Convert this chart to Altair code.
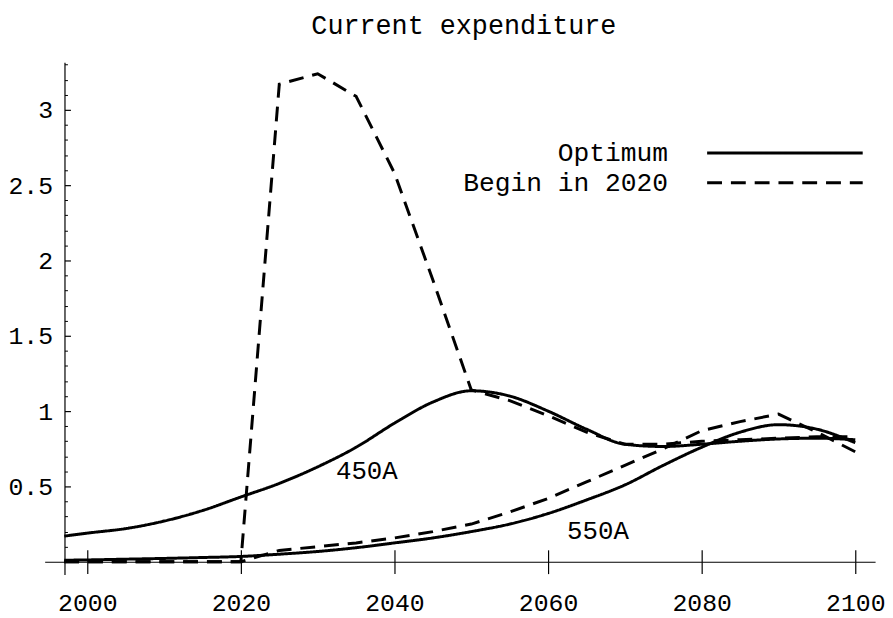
import altair as alt
import pandas as pd

# ---------------- data ----------------
years = [1997, 2000, 2005, 2010, 2015, 2020, 2025, 2030, 2035, 2040, 2045,
         2050, 2055, 2060, 2065, 2070, 2075, 2080, 2085, 2090, 2095, 2100]

optimum_450 = [0.17, 0.19, 0.22, 0.27, 0.34, 0.43, 0.52, 0.63, 0.76, 0.92, 1.06,
               1.135, 1.10, 1.00, 0.88, 0.78, 0.765, 0.78, 0.80, 0.815, 0.82, 0.81]
begin_450 = [0.0, 0.0, 0.0, 0.0, 0.0, 0.0, 3.17, 3.24, 3.09, 2.58, 1.87,
             1.14, 1.07, 0.97, 0.86, 0.78, 0.78, 0.80, 0.81, 0.82, 0.83, 0.83]
optimum_550 = [0.01, 0.012, 0.017, 0.022, 0.028, 0.035, 0.05, 0.068, 0.093, 0.125, 0.158,
               0.20, 0.25, 0.32, 0.41, 0.51, 0.64, 0.76, 0.86, 0.91, 0.88, 0.79]
begin_550 = [0.0, 0.0, 0.0, 0.0, 0.0, 0.0, 0.075, 0.10, 0.125, 0.158, 0.20,
             0.25, 0.33, 0.42, 0.53, 0.64, 0.75, 0.87, 0.93, 0.98, 0.86, 0.73]

scenarios = ["Optimum", "Begin in 2020"]
cases = ["450A", "550A"]

label_text = ["450A", "550A"]
label_year = [2036.4, 2066.5]
label_value = [0.605, 0.204]

x_major = [2000, 2020, 2040, 2060, 2080, 2100]
y_major = [0.5, 1.0, 1.5, 2.0, 2.5, 3.0]
y_minor = [round(v / 10, 1) for v in range(1, 34) if v % 5 != 0]

# ---------------- tables ----------------
rows = []
for scen, case, vals in [("Optimum", "450A", optimum_450), ("Begin in 2020", "450A", begin_450),
                         ("Optimum", "550A", optimum_550), ("Begin in 2020", "550A", begin_550)]:
    for yr, v in zip(years, vals):
        rows.append({"year": yr, "value": v, "scenario": scen, "case": case})
df = pd.DataFrame(rows)
labels_df = pd.DataFrame({"text": label_text, "year": label_year, "value": label_value})

FONT = "Liberation Mono"
xscale = alt.Scale(domain=[1994.45, 2102.58], nice=False, zero=False)
yscale = alt.Scale(domain=[-0.0855, 3.316], nice=False, zero=False)


def make_legend(y):
    return alt.Legend(
        title=None, orient="none", legendX=667, legendY=y, padding=0,
        symbolType="stroke", symbolSize=24649, symbolStrokeWidth=3,
        symbolStrokeColor="black",
        labelFont=FONT, labelFontSize=26.5, labelColor="black", labelAlign="right",
        labelBaseline="middle", labelOffset={"expr": "-198"}, labelLimit=400,
    )


x_main = alt.Axis(orient="bottom", offset={"expr": "-13"}, values=x_major, format="d", tickSize=12,
                  labelPadding=17, grid=False, title=None, labelFont=FONT, labelFontSize=25,
                  labelColor="black", domainColor="black", tickColor="black",
                  domainWidth=1.2, tickWidth=1.2, labelFlush=False)
y_main = alt.Axis(orient="left", offset={"expr": "-20"}, values=y_major, format="~g", ticks=False,
                  tickSize=0, labelPadding=12, grid=False, title=None, labelFont=FONT,
                  labelFontSize=25, labelColor="black", domainColor="black",
                  domainWidth=1.2, labelFlush=False)

opt_lines = alt.Chart(df).transform_filter(alt.datum.scenario == "Optimum").mark_line(
    interpolate="monotone", strokeWidth=3, color="black"
).encode(
    x=alt.X("year:Q", scale=xscale, axis=x_main),
    y=alt.Y("value:Q", scale=yscale, axis=y_main),
    strokeDash=alt.StrokeDash("scenario:N",
                              scale=alt.Scale(domain=[scenarios[0]], range=[[1, 0]]),
                              legend=make_legend(11.5)),
    detail="case:N",
)

begin_lines = alt.Chart(df).transform_filter(alt.datum.scenario == "Begin in 2020").mark_line(
    strokeWidth=3, color="black"
).encode(
    x=alt.X("year:Q", scale=xscale, axis=None),
    y=alt.Y("value:Q", scale=yscale, axis=None),
    strokeDash=alt.StrokeDash("scenario:N",
                              scale=alt.Scale(domain=[scenarios[1]], range=[[15, 9]]),
                              legend=make_legend(41.5)),
    detail="case:N",
)

x_inner = alt.Chart(df).mark_point(opacity=0, size=0).encode(
    x=alt.X("year:Q", scale=xscale, axis=alt.Axis(
        orient="bottom", offset={"expr": "-25"}, values=x_major, tickSize=12, labels=False,
        domain=False, grid=False, title=None, tickColor="black", tickWidth=1.2)),
    y=alt.Y("value:Q", scale=yscale, axis=None),
)

y_major_ticks = alt.Chart(df).mark_point(opacity=0, size=0).encode(
    x=alt.X("year:Q", scale=xscale, axis=None),
    y=alt.Y("value:Q", scale=yscale, axis=alt.Axis(
        orient="left", offset={"expr": "-26"}, values=y_major, tickSize=6, labels=False,
        domain=False, grid=False, title=None, tickColor="black", tickWidth=1.2)),
)

y_minor_ticks = alt.Chart(df).mark_point(opacity=0, size=0).encode(
    x=alt.X("year:Q", scale=xscale, axis=None),
    y=alt.Y("value:Q", scale=yscale, axis=alt.Axis(
        orient="left", offset={"expr": "-23"}, values=y_minor, tickSize=3, labels=False,
        domain=False, grid=False, title=None, tickColor="black", tickWidth=1)),
)

texts = alt.Chart(labels_df).mark_text(
    font=FONT, fontSize=26, color="black", align="center", baseline="middle"
).encode(
    x=alt.X("year:Q", scale=xscale, axis=None),
    y=alt.Y("value:Q", scale=yscale, axis=None),
    text="text:N",
)

chart = alt.layer(
    opt_lines, begin_lines, x_inner, y_major_ticks, y_minor_ticks, texts
).resolve_axis(
    x="independent", y="independent"
).resolve_scale(
    strokeDash="independent"
).resolve_legend(
    strokeDash="independent"
).properties(
    width=838, height=517,
    autosize=alt.AutoSizeParams(type="none"),
    padding={"left": 37, "top": 52, "right": 10, "bottom": 40},
    background="white",
    title=alt.TitleParams("Current expenditure", font=FONT, fontSize=27,
                          fontWeight="normal", color="black", anchor="middle",
                          offset=23, dx=4),
).configure_view(stroke=None)

chart.save("out.html", embed_options={"renderer": "svg", "actions": False})
